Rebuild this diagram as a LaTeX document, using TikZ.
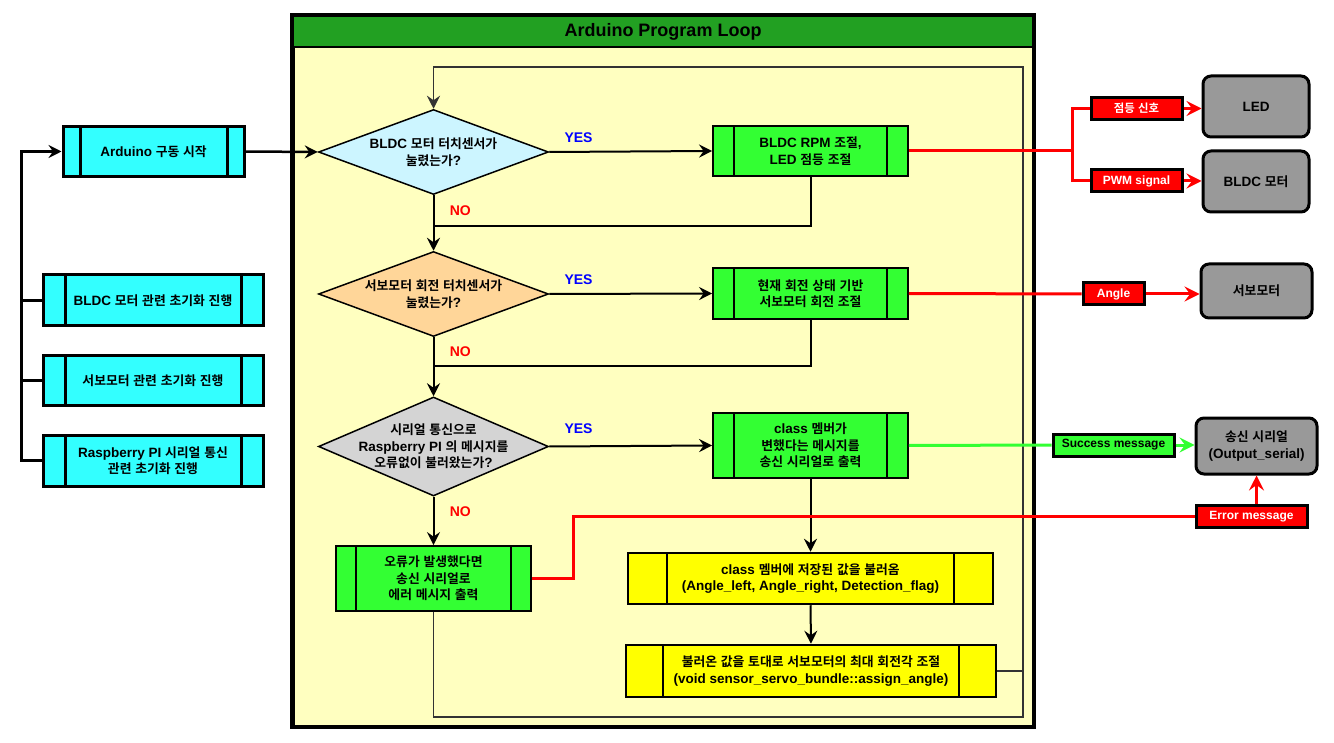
\documentclass[tikz,border=0pt]{standalone}
\usepackage{fontspec}
\setmainfont{Liberation Sans}
\newfontfamily\latinfont{Liberation Sans}
\newfontfamily\krfont{Noto Sans CJK KR}[Scale=0.95,BoldFont={* Bold}]
\usetikzlibrary{shapes.geometric,arrows.meta}
\XeTeXinterchartokenstate=1
\newXeTeXintercharclass\KRclass
\count255="AC00
\loop
  \XeTeXcharclass\count255=\KRclass
  \ifnum\count255<"D7A3 \advance\count255 by 1
\repeat
\XeTeXinterchartoks 0 \KRclass={\krfont}
\XeTeXinterchartoks 4095 \KRclass={\krfont}
\XeTeXinterchartoks \KRclass 0={\latinfont}
\XeTeXinterchartoks \KRclass 4095={\latinfont}
\definecolor{cyanbox}{HTML}{33FFFF}
\definecolor{dOne}{HTML}{CCF5FF}
\definecolor{dTwo}{HTML}{FFD699}
\definecolor{dThree}{HTML}{D4D4D4}
\definecolor{gbox}{HTML}{33FF33}
\definecolor{ybox}{HTML}{FFFF00}
\definecolor{loopbg}{HTML}{FFFFC0}
\definecolor{hdr}{HTML}{22A022}
\definecolor{graybox}{HTML}{999999}
\definecolor{redc}{HTML}{FF0000}
\definecolor{yesblue}{HTML}{0000FF}
\definecolor{loopline}{HTML}{333333}
\begin{document}
\begin{tikzpicture}[x=1pt,y=-1pt,
  txt/.style={font=\fontsize{13.5}{16.5}\selectfont\bfseries, align=center},
  subp/.style 2 args={path picture={\draw[line width=#2]
     ([xshift=#1 pt]path picture bounding box.north west)--([xshift=#1 pt]path picture bounding box.south west)
     ([xshift=-#1 pt]path picture bounding box.north east)--([xshift=-#1 pt]path picture bounding box.south east);}},
  cbox/.style={draw, line width=3, fill=cyanbox, txt, inner sep=0},
  gboxs/.style={draw, line width=1.8, fill=gbox, txt, inner sep=0},
  yboxs/.style={draw, line width=2.5, fill=ybox, txt, inner sep=0},
  dia/.style={diamond, draw, line width=1.5, inner sep=0, minimum width=230},
  grnd/.style={draw, line width=3, fill=graybox, rounded corners=8, txt, inner sep=0},
  lab/.style={draw, line width=3, inner sep=0, font=\fontsize{12}{14}\selectfont\bfseries, minimum height=22},
  redlab/.style={lab, fill=redc, text=white},
  grnlab/.style={lab, fill=gbox},
  yes/.style={font=\fontsize{14}{16}\selectfont\bfseries, text=yesblue},
  no/.style={font=\fontsize{14}{16}\selectfont\bfseries, text=redc},
  arr/.style={-{Stealth[length=13pt,width=13pt,inset=4.5pt]}},
  conn/.style={line width=2},
  lp/.style={line width=1.5, draw=loopline},
  redl/.style={line width=3, draw=redc},
  grnl/.style={line width=3, draw=gbox},
  rarr/.style={-{Stealth[length=15pt,width=15pt,inset=5.5pt]}}
]
\useasboundingbox (0,0) rectangle (1334,743);
\fill[white] (0,0) rectangle (1334,743);

% container
\node[draw, line width=3, fill=loopbg, minimum width=740, minimum height=710, inner sep=0] (cont) at (663,371) {};
\node[draw, line width=2.5, fill=hdr, minimum width=740, minimum height=31, inner sep=0,
      font=\fontsize{18}{20}\selectfont\bfseries] (title) at (663,31.5) {Arduino Program Loop};
\draw[line width=3] (cont.south west) rectangle (cont.north east);

% left column
\node[cbox, subp={17}{3}, minimum width=181, minimum height=50] (start) at (153.5,151.5) {Arduino 구동 시작};
\node[cbox, subp={22}{3}, minimum width=220, minimum height=51] (init1) at (153,300.5) {BLDC 모터 관련 초기화 진행};
\node[cbox, subp={22}{3}, minimum width=220, minimum height=49] (init2) at (153,380.5) {서보모터 관련 초기화 진행};
\node[cbox, subp={22}{3}, minimum width=220, minimum height=51] (init3) at (153,460.5) {Raspberry PI 시리얼 통신\\관련 초기화 진행};

\draw[line width=3, arr] (init3.west) -- ++(-20,0) |- (start.west);
\draw[line width=3] (init1.west) -- ++(-20,0);
\draw[line width=3] (init2.west) -- ++(-20,0);

% diamonds
\node[dia, fill=dOne, minimum height=85, label={[txt]center:BLDC 모터 터치센서가\\눌렸는가?}] (d1) at (433.5,152) {};
\node[dia, fill=dTwo, minimum height=85, label={[txt]center:서보모터 회전 터치센서가\\눌렸는가?}] (d2) at (433.5,294) {};
\node[dia, fill=dThree, minimum height=99, label={[txt]center:시리얼 통신으로\\Raspberry PI 의 메시지를\\오류없이 불러왔는가?}] (d3) at (433.5,446.5) {};

% process boxes
\node[gboxs, subp={21}{1.8}, minimum width=195, minimum height=50] (b1) at (810.5,151) {BLDC RPM 조절,\\LED 점등 조절};
\node[gboxs, subp={21}{1.8}, minimum width=195, minimum height=51] (b2) at (810.5,293.5) {현재 회전 상태 기반\\서보모터 회전 조절};
\node[gboxs, subp={21}{1.8}, minimum width=195, minimum height=65] (b3) at (810.5,445.5) {class 멤버가\\변했다는 메시지를\\송신 시리얼로 출력};
\node[gboxs, subp={20}{1.8}, minimum width=195, minimum height=65] (err) at (433.5,578.5) {오류가 발생했다면\\송신 시리얼로\\에러 메시지 출력};
\node[yboxs, subp={39}{2.5}, minimum width=365, minimum height=51] (y1) at (810.5,578.5) {class 멤버에 저장된 값을 불러옴\\(Angle\_left, Angle\_right, Detection\_flag)};
\node[yboxs, subp={37}{2.5}, minimum width=370, minimum height=52] (y2) at (811,671) {불러온 값을 토대로 서보모터의 최대 회전각 조절\\(void sensor\_servo\_bundle::assign\_angle)};

% right side
\node[grnd, minimum width=106, minimum height=61] (led) at (1256,106.5) {LED};
\node[grnd, minimum width=106, minimum height=61] (bldc) at (1256,181.5) {BLDC 모터};
\node[grnd, minimum width=111, minimum height=54] (servo) at (1256.5,291) {서보모터};
\node[grnd, minimum width=121, minimum height=56] (out) at (1256.5,446) {송신 시리얼\\(Output\_serial)};

\node[redlab, minimum width=91] (l1) at (1136.5,108.5) {점등 신호};
\node[redlab, minimum width=91] (l2) at (1136.5,181) {PWM signal};
\node[redlab, minimum width=61] (l3) at (1113.5,294) {Angle};
\node[grnlab, minimum width=121] (l4) at (1113.5,445) {Success message};
\node[redlab, minimum width=111] (l5) at (1251.5,516.5) {Error message};

% coordinates
\coordinate (j1) at (433.5,226);
\coordinate (j2) at (433.5,366);
\coordinate (loopBR) at (1023,717);
\coordinate (loopTL) at (433.5,67);
\coordinate (br) at (1072,151);
\coordinate (ebend) at (573,516.5);

% black connectors
\draw[line width=2.5, arr] (start.east) -- (d1.west);
\draw[conn, arr] (d1.east) -- (b1.west) node[yes, pos=0.18, above=5pt] {YES};
\draw[conn, arr] (d1.south) -- (d2.north) node[no, pos=0.28, right=12pt] {NO};
\draw[conn] (b1.south) |- (j1);
\draw[conn, arr] (d2.east) -- (b2.west) node[yes, pos=0.18, above=5pt] {YES};
\draw[conn, arr] (d2.south) -- (d3.north) node[no, pos=0.24, right=12pt] {NO};
\draw[conn] (b2.south) |- (j2);
\draw[conn, arr] (d3.east) -- (b3.west) node[yes, pos=0.18, above=8pt] {YES};
\draw[conn, arr] (d3.south) -- (err.north) node[no, pos=0.30, right=12pt] {NO};
\draw[conn, arr] (b3.south) -- (y1.north);
\draw[conn, arr] (y1.south) -- (y2.north);
\draw[lp] (y2.east) -- (y2.east -| loopBR);
\draw[lp, arr] (err.south) |- (loopBR) |- (loopTL) -- (d1.north);

% red / green signal lines
\draw[redl] (b1.east) -- (br);
\draw[redl] (br) |- (l1.west);
\draw[redl] (br) |- (l2.west);
\draw[redl, rarr] (l1.east) -- (l1.east -| led.west);
\draw[redl, rarr] (l2.east) -- (l2.east -| bldc.west);
\draw[redl] (b2.east) -- (l3.west);
\draw[redl, rarr] (l3.east) -- (l3.east -| servo.west);
\draw[grnl] (b3.east) -- (l4.west);
\draw[grnl, rarr] (l4.east) -- (l4.east -| out.west);
\draw[redl] (err.east) -| (ebend) -- (l5.west);
\draw[redl, rarr] (l5.north -| out.south) -- (out.south);
\end{tikzpicture}
\end{document}
